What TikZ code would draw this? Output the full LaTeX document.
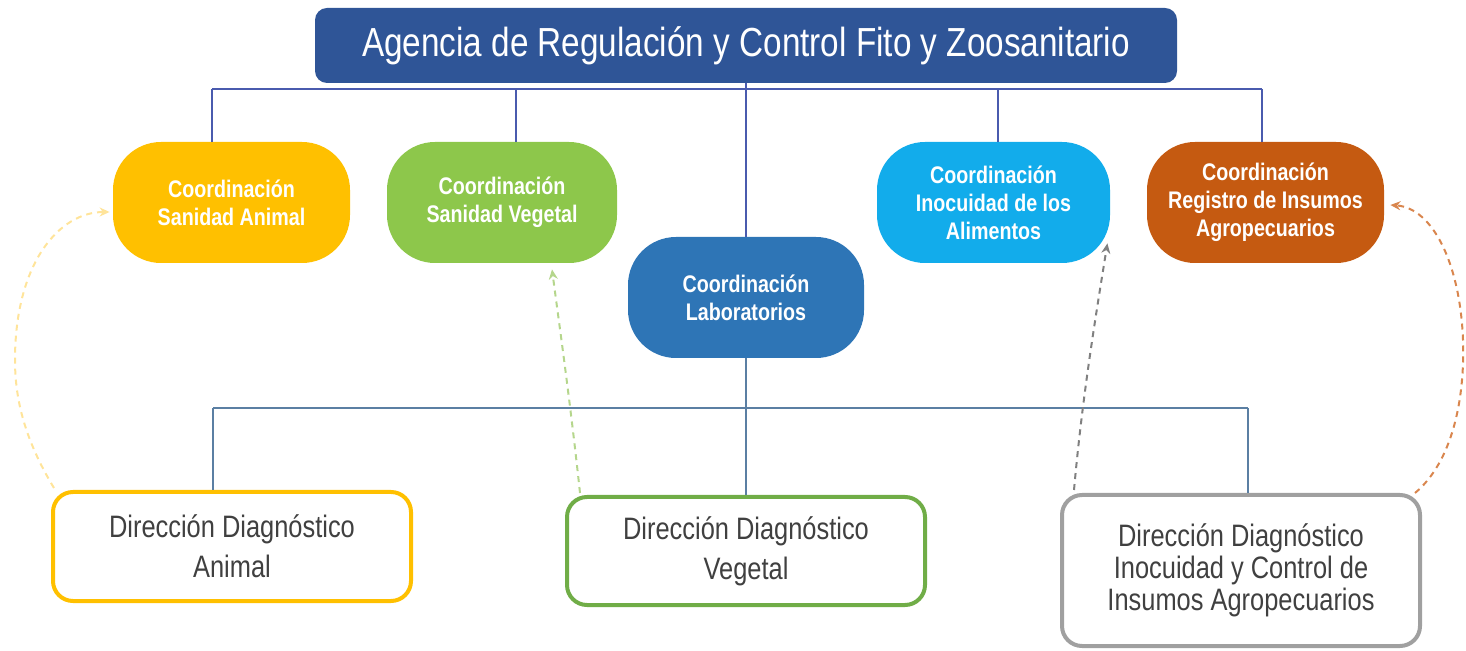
\documentclass[tikz,border=0pt]{standalone}
\usepackage{fontspec}
\newfontfamily\narrow[FakeStretch=0.82]{Liberation Sans}
\usetikzlibrary{arrows.meta,calc}
\definecolor{bannerc}{HTML}{2F5597}
\definecolor{yel}{HTML}{FFC000}
\definecolor{grn}{HTML}{8DC74B}
\definecolor{labc}{HTML}{2E75B6}
\definecolor{cyn}{HTML}{12ACEB}
\definecolor{org}{HTML}{C55A11}
\definecolor{topln}{HTML}{4A5BAE}
\definecolor{botln}{HTML}{5B7FA3}
\definecolor{dtext}{HTML}{404040}
\definecolor{dgrn}{HTML}{70AD47}
\definecolor{dgry}{HTML}{A0A0A0}
\definecolor{ayel}{HTML}{FFE49A}
\definecolor{agrn}{HTML}{B5D68C}
\definecolor{agry}{HTML}{808080}
\definecolor{aorg}{HTML}{D9864E}
\tikzset{
  coordbox/.style={rounded corners=24pt, minimum height=60.5pt, text=white,
    font=\narrow\bfseries\fontsize{12}{14}\selectfont, align=center, inner sep=0pt},
  dirbox/.style={draw, line width=2pt, rounded corners=10pt, fill=white,
    minimum width=179pt, text=dtext, align=center, inner sep=0pt},
  topline/.style={draw=topln, line width=1.3pt},
  botline/.style={draw=botln, line width=0.8pt},
  dasharrow/.style={line width=1pt, dash pattern=on 3pt off 2.5pt,
    -{Stealth[length=5pt,width=4.5pt]}}
}
\begin{document}
\begin{tikzpicture}[x=0.5pt,y=-0.5pt]
\useasboundingbox (0,0) rectangle (1466,651);
% banner
\node[fill=bannerc, rounded corners=6pt, minimum width=431pt, minimum height=37.5pt,
  inner sep=0pt, text=white, font=\narrow\fontsize{20.3}{24}\selectfont]
  (top) at (746,45.5) {Agencia de Regulación y Control Fito y Zoosanitario};
% coordination boxes
\node[coordbox, fill=yel, minimum width=118.5pt] (sa) at (231.5,202.5) {Coordinación\\Sanidad Animal};
\node[coordbox, fill=grn, minimum width=115pt] (sv) at (502,202.5) {Coordinación\\Sanidad Vegetal};
\node[coordbox, fill=labc, minimum width=118pt] (lab) at (746,297.5) {Coordinación\\Laboratorios};
\node[coordbox, fill=cyn, minimum width=116.5pt] (si) at (993.5,202.5) {Coordinación\\Inocuidad de los\\Alimentos};
\node[coordbox, fill=org, minimum width=118.5pt] (sr) at (1265.5,202.5) {Coordinación\\Registro de Insumos\\Agropecuarios};
% direction boxes
\node[dirbox, draw=yel, minimum height=54.5pt, font=\narrow\fontsize{15.5}{20}\selectfont]
  (da) at (232,546.5) {Dirección Diagnóstico\\Animal};
\node[dirbox, draw=dgrn, minimum height=54pt, font=\narrow\fontsize{15.5}{20}\selectfont]
  (dv) at (746,551) {Dirección Diagnóstico\\Vegetal};
\node[dirbox, draw=dgry, minimum height=75.5pt, font=\narrow\fontsize{15.5}{16}\selectfont]
  (di) at (1241,570.5) {Dirección Diagnóstico\\Inocuidad y Control de\\Insumos Agropecuarios};
% top connectors
\coordinate (h1) at (212,89);
\coordinate (h2) at (516,89);
\coordinate (h3) at (746,89);
\coordinate (h4) at (998,89);
\coordinate (h5) at (1262,89);
\draw[topline] (h1) -- (h5);
\draw[topline] (h1) -- (h1 |- sa.north);
\draw[topline] (h2) -- (h2 |- sv.north);
\draw[topline] (top.south) -- (lab.north);
\draw[topline] (h4) -- (h4 |- si.north);
\draw[topline] (h5) -- (h5 |- sr.north);
% bottom connectors
\coordinate (b1) at (213,408);
\coordinate (b3) at (1248,408);
\draw[botline] (b1) -- (b3);
\draw[botline] (b1) -- (b1 |- da.north);
\draw[botline] (lab.south) -- (dv.north);
\draw[botline] (b3) -- (b3 |- di.north);
% dashed arrows
\draw[dasharrow, draw=ayel] ($(da.north west)+(3,-2)$)
  .. controls (25,440) and (15,400) .. (15,360)
  .. controls (15,262) and (60,212) .. ($(sa.west)+(-3,9.5)$);
\draw[dasharrow, draw=agrn] ($(dv.north west)+(15,-2)$)
  .. controls (570,400) and (560,330) .. ($(sv.south)+(50,6)$);
\draw[dasharrow, draw=agry] ($(di.north west)+(14,-3)$)
  .. controls (1082,400) and (1095,320) .. ($(si.south east)+(-3,-20)$);
\draw[dasharrow, draw=aorg] ($(di.north east)+(-7,0)$)
  .. controls (1452,462) and (1465,400) .. (1463,340)
  .. controls (1460,262) and (1432,208) .. ($(sr.east)+(6,2.5)$);
\end{tikzpicture}
\end{document}
